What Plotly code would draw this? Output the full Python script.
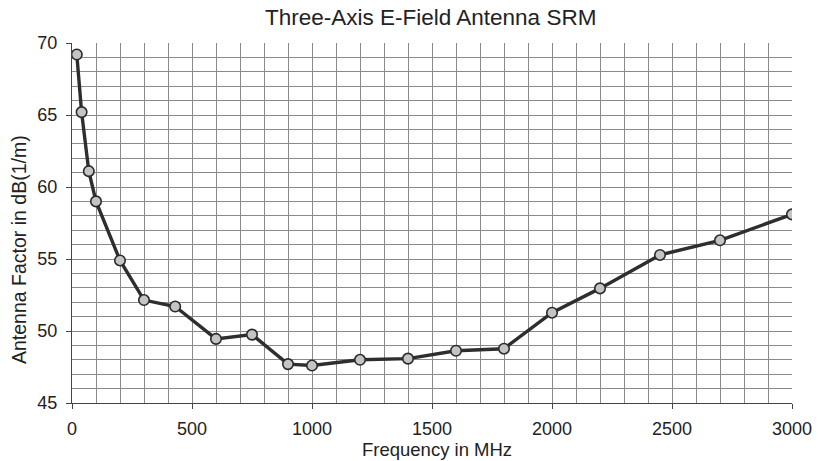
import plotly.graph_objects as go

freq_mhz = [20, 40, 70, 100, 200, 300, 430, 600, 750, 900, 1000, 1200, 1400, 1600, 1800, 2000, 2200, 2450, 2700, 3000]
antenna_factor = [69.2, 65.2, 61.1, 59.0, 54.9, 52.15, 51.7, 49.45, 49.75, 47.7, 47.6, 48.0, 48.08, 48.63, 48.77, 51.27, 52.96, 55.28, 56.3, 58.1]
x_ticks = [0, 500, 1000, 1500, 2000, 2500, 3000]
y_ticks = [45, 50, 55, 60, 65, 70]

FONT = "Liberation Sans, Arial, sans-serif"
GRID = "#8a8a8a"
TXT = "#222"

W, H = 818, 461
L, T = 72, 43
R = 26
PW = 720
PH = 360
B = H - T - PH


def px_x(px):
    return (px - L) / PW


def px_y(py):
    return (H - B - py) / PH


fig = go.Figure()
fig.add_trace(go.Scatter(
    x=freq_mhz, y=antenna_factor, mode="lines+markers",
    line=dict(color="#2e2e2e", width=3.4),
    marker=dict(size=10.5, color="#c4c4c4", line=dict(color="#2a2a2a", width=1.6)),
    showlegend=False, hoverinfo="skip",
))

fig.update_layout(
    width=W, height=H,
    margin=dict(l=L, r=R, t=T, b=B),
    paper_bgcolor="white", plot_bgcolor="white",
    font=dict(family=FONT, color=TXT),
    annotations=[
        dict(text="Three-Axis E-Field Antenna SRM", xref="paper", yref="paper",
             x=px_x(430), y=px_y(17), xanchor="center", yanchor="middle",
             showarrow=False, font=dict(family=FONT, size=22.5, color=TXT)),
        dict(text="Frequency in MHz", xref="paper", yref="paper",
             x=px_x(437), y=px_y(449), xanchor="center", yanchor="middle",
             showarrow=False, font=dict(family=FONT, size=18.5, color=TXT)),
        dict(text="Antenna Factor in dB(1/m)", xref="paper", yref="paper",
             x=px_x(19), y=px_y(250), xanchor="center", yanchor="middle",
             textangle=-90, showarrow=False, font=dict(family=FONT, size=19.5, color=TXT)),
    ],
)
fig.update_xaxes(
    range=[0, 3000], tickvals=x_ticks, ticktext=[str(v) for v in x_ticks],
    automargin=False,
    showgrid=True, gridcolor=GRID, gridwidth=1,
    minor=dict(dtick=100, showgrid=True, gridcolor=GRID, gridwidth=1),
    showline=True, linecolor="#444", linewidth=1.2,
    ticks="outside", ticklen=5, tickcolor="#444",
    ticklabelstandoff=4,
    tickfont=dict(size=18, family=FONT, color=TXT),
    zeroline=False,
)
fig.update_yaxes(
    range=[45, 70], tickvals=y_ticks, ticktext=[str(v) for v in y_ticks],
    automargin=False,
    showgrid=True, gridcolor=GRID, gridwidth=1,
    minor=dict(dtick=1, showgrid=True, gridcolor=GRID, gridwidth=1),
    showline=True, linecolor="#444", linewidth=1.2,
    ticks="outside", ticklen=5, tickcolor="#444",
    ticklabelstandoff=5,
    tickfont=dict(size=18, family=FONT, color=TXT),
    zeroline=False,
)

fig.write_html(
    "out.html",
    config={"displayModeBar": False, "staticPlot": True},
    post_script="document.body.style.margin='0';document.body.style.overflow='hidden';",
)
